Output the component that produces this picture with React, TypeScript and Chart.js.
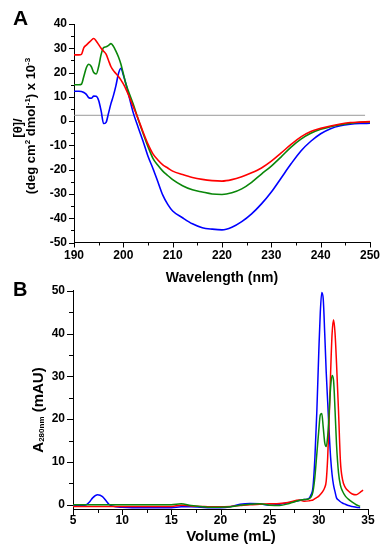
import React, { useEffect, useRef } from "react";
import { Chart, registerables } from "chart.js";

Chart.register(...registerables);

const FONT = '"Liberation Sans", Arial, Helvetica, sans-serif';

// ---------- Panel A: CD spectra ----------
const cdWavelength = [190, 191, 191.5, 192, 192.5, 193, 193.5, 194, 194.5, 195, 195.5, 196, 196.5, 197, 197.5, 198, 198.5, 199, 199.5, 200, 200.5, 201, 202, 203, 204, 205, 206, 207, 208, 209, 210, 212, 214, 216, 218, 220, 222, 224, 226, 228, 230, 232, 234, 236, 238, 240, 242, 244, 246, 248, 250];
const cdRed = [27.3, 27.3, 27.5, 30.3, 31.3, 32.3, 33.3, 34.0, 33.0, 31.5, 30.0, 28.8, 27.6, 25.0, 22.4, 20.8, 19.6, 18.4, 17.0, 15.3, 13.3, 11.0, 6.0, 1.0, -4.5, -9.5, -13.5, -16.0, -18.0, -19.3, -20.6, -22.0, -23.2, -24.0, -24.5, -24.7, -24.1, -22.9, -21.3, -19.3, -16.5, -13.1, -9.6, -6.5, -4.3, -3.0, -2.0, -1.2, -0.6, -0.4, -0.2];
const cdGreen = [15.0, 15.0, 15.2, 18.5, 22.0, 23.4, 22.5, 20.0, 19.4, 22.5, 27.5, 30.3, 30.6, 31.2, 31.9, 30.8, 28.8, 26.5, 23.5, 19.5, 15.5, 12.5, 7.0, 0.8, -5.0, -10.5, -15.3, -18.2, -20.6, -22.4, -24.1, -26.6, -28.3, -29.2, -30.0, -30.2, -29.5, -27.9, -25.2, -21.8, -18.5, -14.7, -10.7, -7.4, -5.0, -3.4, -2.3, -1.5, -0.9, -0.5, -0.3];
const cdBlue = [12.3, 12.3, 12.2, 11.8, 11.0, 9.6, 9.4, 10.3, 10.2, 8.5, 4.2, -1.0, -0.5, 3.3, 7.3, 10.6, 14.6, 19.5, 21.8, 19.0, 15.5, 11.5, 3.5, -2.5, -8.3, -14.5, -19.5, -25.0, -30.5, -34.3, -37.0, -39.8, -42.3, -43.9, -44.5, -44.8, -43.7, -41.4, -38.2, -34.1, -29.2, -23.4, -17.6, -12.3, -8.3, -5.2, -3.1, -1.9, -1.3, -1.0, -0.9];
const cdRefX = [190, 249];
const cdRefY = [2.4, 2.4];
const cdXMajor = [190, 200, 210, 220, 230, 240, 250];
const cdYMajor = [-50, -40, -30, -20, -10, 0, 10, 20, 30, 40];

// ---------- Panel B: size-exclusion chromatogram ----------
const secVolume = [5, 6, 6.3, 6.7, 7, 7.5, 8, 8.4, 8.7, 9, 10, 11, 12, 13, 14, 15, 16, 17, 18, 19, 20, 21, 22, 23, 24, 25, 26, 27, 28, 28.5, 29, 29.2, 29.4, 29.6, 29.8, 30, 30.15, 30.3, 30.45, 30.6, 30.75, 30.9, 31.05, 31.2, 31.35, 31.5, 31.65, 31.8, 32, 32.2, 32.4, 32.7, 33, 33.4, 33.8, 34.2, 34.5];
const secBlue = [-0.2, -0.2, -0.1, 0.7, 1.6, 2.3, 1.9, 0.8, 0.0, -0.3, -0.6, -0.7, -0.7, -0.7, -0.7, -0.7, -0.5, -0.5, -0.6, -0.7, -0.7, -0.5, 0.1, 0.3, 0.2, -0.1, 0.1, 0.5, 1.0, 1.2, 1.5, 2.3, 4.0, 11, 22, 36, 45, 49.6, 48, 40, 31, 24, 17, 11, 7, 4.5, 3.0, 1.6, 1.1, 0.7, 0.4, 0.1, -0.2, -0.4, -0.6, -0.7, null];
const secRed = [-0.4, -0.4, -0.4, -0.4, -0.4, -0.4, -0.4, -0.4, -0.4, -0.4, -0.4, -0.4, -0.4, -0.4, -0.4, -0.4, -0.1, -0.3, -0.4, -0.5, -0.5, -0.4, -0.2, 0.0, 0.1, 0.2, 0.3, 0.6, 1.1, 0.8, 0.9, 1.0, 1.1, 1.4, 1.7, 2.0, 2.4, 2.8, 3.3, 4.0, 5.5, 11, 20, 31, 40, 43.2, 40, 33, 22, 10, 6, 4.0, 3.2, 2.5, 2.3, 2.9, 3.4];
const secGreen = [0.0, 0.0, 0.0, 0.0, 0.0, 0.0, 0.0, 0.0, 0.0, 0.0, 0.0, 0.0, 0.0, 0.0, 0.0, 0.0, 0.2, -0.2, -0.4, -0.6, -0.6, -0.5, -0.1, 0.1, 0.2, -0.1, -0.2, 0.3, 1.0, 1.2, 1.4, 1.8, 3.0, 6.5, 12, 17.5, 21, 21.3, 18, 14.5, 13.6, 16, 21.5, 27.5, 30.2, 29.0, 22, 14, 7.5, 4.5, 3.2, 2.0, 1.3, 0.6, 0.0, -0.4, null];
const secXMajor = [5, 10, 15, 20, 25, 30, 35];
const secYMajor = [0, 10, 20, 30, 40, 50];

const RED = "#ff0000";
const GREEN = "#0a870a";
const BLUE = "#0000ff";

type Seg = { t: string; size: number; shift: number };

function withMinors(majors: number[]): number[] {
  const out: number[] = [];
  majors.forEach((m, i) => {
    out.push(m);
    if (i < majors.length - 1) out.push((m + majors[i + 1]) / 2);
  });
  return out;
}

function pts(xs: number[], ys: (number | null)[]) {
  return xs
    .map((x, i) => ({ x, y: ys[i] }))
    .filter((p) => p.y !== null && p.y !== undefined) as { x: number; y: number }[];
}

function drawRotatedRich(ctx: CanvasRenderingContext2D, cx: number, cy: number, segs: Seg[]) {
  ctx.save();
  ctx.translate(cx, cy);
  ctx.rotate(-Math.PI / 2);
  ctx.textBaseline = "alphabetic";
  ctx.textAlign = "left";
  ctx.fillStyle = "#000";
  let total = 0;
  segs.forEach((s) => {
    ctx.font = `bold ${s.size}px ${FONT}`;
    total += ctx.measureText(s.t).width;
  });
  let x = -total / 2;
  segs.forEach((s) => {
    ctx.font = `bold ${s.size}px ${FONT}`;
    ctx.fillText(s.t, x, s.shift);
    x += ctx.measureText(s.t).width;
  });
  ctx.restore();
}

type Deco = {
  xMajor: number[];
  yMajor: number[];
  majorLen: number;
  minorLen: number;
  draw: (ctx: CanvasRenderingContext2D, chart: any) => void;
};

function decoPlugin(d: Deco) {
  return {
    id: "deco",
    afterDraw(chart: any) {
      const ctx: CanvasRenderingContext2D = chart.ctx;
      const area = chart.chartArea;
      ctx.save();
      ctx.strokeStyle = "#000";
      ctx.lineWidth = 1;
      ctx.beginPath();
      const xs = chart.scales.x;
      xs.ticks.forEach((t: any) => {
        const len = d.xMajor.includes(t.value) ? d.majorLen : d.minorLen;
        const px = Math.round(xs.getPixelForValue(t.value)) + 0.5;
        ctx.moveTo(px, area.bottom);
        ctx.lineTo(px, area.bottom + len);
      });
      const ys = chart.scales.y;
      ys.ticks.forEach((t: any) => {
        const len = d.yMajor.includes(t.value) ? d.majorLen : d.minorLen;
        const py = Math.round(ys.getPixelForValue(t.value)) + 0.5;
        ctx.moveTo(area.left - len, py);
        ctx.lineTo(area.left, py);
      });
      ctx.stroke();
      ctx.restore();
      d.draw(ctx, chart);
    },
  };
}

function axis(min: number, max: number, majors: number[], fitSize: number, horizontal: boolean, pad: number) {
  const all = withMinors(majors);
  return {
    type: "linear" as const,
    min,
    max,
    afterBuildTicks: (s: any) => {
      s.ticks = all.map((v) => ({ value: v }));
    },
    afterFit: (s: any) => {
      if (horizontal) s.height = fitSize;
      else s.width = fitSize;
    },
    ticks: {
      autoSkip: false,
      maxRotation: 0,
      minRotation: 0,
      padding: pad,
      color: "#000",
      font: { family: FONT, size: 12, weight: "bold" as const },
      callback: (v: any) => (majors.includes(Number(v)) ? String(v) : ""),
    },
    grid: { display: false, drawTicks: false },
    border: { display: true, color: "#000", width: 1 },
  };
}

function lineDs(data: any[], color: string, width = 1.6) {
  return {
    data,
    borderColor: color,
    borderWidth: width,
    pointRadius: 0,
    tension: 0.4,
    cubicInterpolationMode: "monotone" as const,
    fill: false,
  };
}

export default function App() {
  const refA = useRef<HTMLCanvasElement>(null);
  const refB = useRef<HTMLCanvasElement>(null);

  useEffect(() => {
    const chartA = new Chart(refA.current as HTMLCanvasElement, {
      type: "line",
      data: {
        datasets: [
          lineDs(pts(cdWavelength, cdRed), RED),
          lineDs(pts(cdWavelength, cdGreen), GREEN),
          lineDs(pts(cdWavelength, cdBlue), BLUE),
          { ...lineDs(pts(cdRefX, cdRefY), "#9a9a9a", 1), tension: 0 },
        ],
      },
      options: {
        responsive: false,
        animation: false,
        events: [],
        layout: { padding: { left: 0, right: 18, top: 24, bottom: 0 } },
        plugins: { legend: { display: false }, tooltip: { enabled: false } },
        scales: {
          x: axis(190, 250, cdXMajor, 47.5, true, 6),
          y: axis(-50, 40, cdYMajor, 74, false, 7),
        },
      },
      plugins: [
        decoPlugin({
          xMajor: cdXMajor,
          yMajor: cdYMajor,
          majorLen: 5,
          minorLen: 3,
          draw: (ctx) => {
            ctx.save();
            ctx.fillStyle = "#000";
            ctx.textBaseline = "alphabetic";
            ctx.textAlign = "left";
            ctx.font = `bold 21px ${FONT}`;
            ctx.fillText("A", 13, 25);
            ctx.textAlign = "center";
            ctx.font = `bold 14px ${FONT}`;
            ctx.fillText("Wavelength (nm)", 222, 282);
            ctx.restore();
            drawRotatedRich(ctx, 21.5, 128, [{ t: "[θ]/", size: 13, shift: 0 }]);
            drawRotatedRich(ctx, 34.5, 126, [
              { t: "(deg cm", size: 13, shift: 0 },
              { t: "2", size: 8, shift: -5 },
              { t: " dmol", size: 13, shift: 0 },
              { t: "-1", size: 8, shift: -5 },
              { t: ") x 10", size: 13, shift: 0 },
              { t: "-3", size: 8, shift: -5 },
            ]);
          },
        }),
      ],
    });

    const chartB = new Chart(refB.current as HTMLCanvasElement, {
      type: "line",
      data: {
        datasets: [
          lineDs(pts(secVolume, secGreen), GREEN, 1.5),
          lineDs(pts(secVolume, secRed), RED, 1.5),
          lineDs(pts(secVolume, secBlue), BLUE, 1.5),
        ],
      },
      options: {
        responsive: false,
        animation: false,
        events: [],
        layout: { padding: { left: 0, right: 20, top: 15.7, bottom: 0 } },
        plugins: { legend: { display: false }, tooltip: { enabled: false } },
        scales: {
          x: axis(5, 35, secXMajor, 41, true, 4),
          y: axis(-1, 50, secYMajor, 73, false, 8),
        },
      },
      plugins: [
        decoPlugin({
          xMajor: secXMajor,
          yMajor: secYMajor,
          majorLen: 6,
          minorLen: 4,
          draw: (ctx) => {
            ctx.save();
            ctx.fillStyle = "#000";
            ctx.textBaseline = "alphabetic";
            ctx.textAlign = "left";
            ctx.font = `bold 20px ${FONT}`;
            ctx.fillText("B", 13, 21);
            ctx.textAlign = "center";
            ctx.font = `bold 15px ${FONT}`;
            ctx.fillText("Volume (mL)", 231, 266);
            ctx.restore();
            drawRotatedRich(ctx, 43, 135, [
              { t: "A", size: 15, shift: 0 },
              { t: "280nm", size: 8, shift: 1 },
              { t: " (mAU)", size: 15, shift: 0 },
            ]);
          },
        }),
      ],
    });

    return () => {
      chartA.destroy();
      chartB.destroy();
    };
  }, []);

  return (
    <div style={{ position: "fixed", left: 0, top: 0, width: 388, height: 550, background: "#fff", overflow: "hidden" }}>
      <canvas ref={refA} width={388} height={290} style={{ position: "absolute", left: 0, top: 0, width: 388, height: 290 }} />
      <canvas ref={refB} width={388} height={275} style={{ position: "absolute", left: 0, top: 275, width: 388, height: 275 }} />
    </div>
  );
}
